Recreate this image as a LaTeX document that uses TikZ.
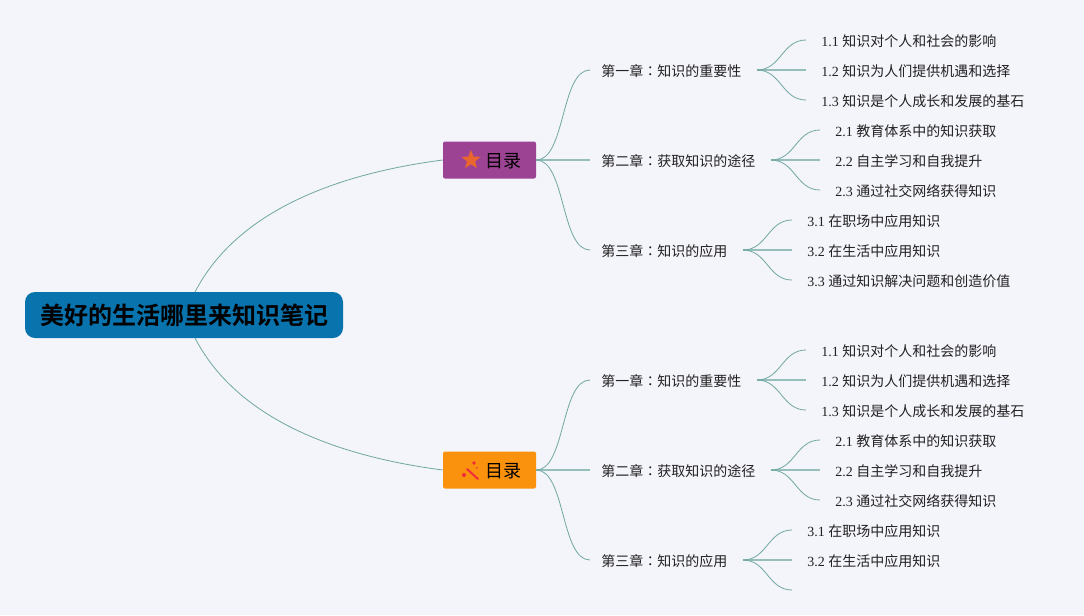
\documentclass[tikz,border=0pt]{standalone}
\usepackage{fontspec}
\setmainfont{Liberation Serif}
\newfontfamily\cjk{Noto Sans CJK SC}
\newfontfamily\cjktc{Noto Sans CJK TC}
\newfontfamily\cjkbold{Noto Sans CJK SC Bold}
\usetikzlibrary{shapes.geometric}
\definecolor{bgc}{HTML}{F4F4FB}
\definecolor{linec}{HTML}{6FA8A0}
\definecolor{rootc}{HTML}{0873AC}
\definecolor{purplec}{HTML}{9C4393}
\definecolor{orangec}{HTML}{FB920E}
\definecolor{starc}{HTML}{E9662F}
\definecolor{wandc}{HTML}{EE2C3C}
\definecolor{txt}{HTML}{222222}
\newcommand{\cln}{{\cjktc ：}}
\tikzset{
  x=0.75pt,y=-0.75pt,
  link/.style={draw=linec,line width=0.6pt},
  stem/.style={draw=linec,line width=1.2pt,opacity=.7},
  rootbox/.style={draw=none,fill=rootc,rounded corners=7.5pt,minimum width=238.5pt,minimum height=34.5pt,inner sep=0pt,text=black,font=\cjkbold\fontsize{18pt}{20pt}\selectfont},
  topicbox/.style={draw=none,rounded corners=1.5pt,minimum width=69.75pt,minimum height=27.75pt,inner sep=0pt},
  topiclabel/.style={inner sep=0pt,text=black,font=\cjk\fontsize{13.5pt}{15pt}\selectfont},
  chapnode/.style={anchor=west,inner sep=0pt,text=txt,font=\cjk\fontsize{10.5pt}{12pt}\selectfont},
  leafnode/.style={anchor=west,inner ysep=0pt,inner xsep=11.25pt,text=txt,font=\fontsize{10.5pt}{12pt}\selectfont},
}
\newcommand{\fan}[4]{% origin, a, b, c
  \draw[link] (#1) .. controls ([xshift=18pt]#1) and ([xshift=-18pt,yshift=0.75pt]#2.west) .. ([yshift=0.75pt]#2.west);
  \draw[stem] (#1) -- (#1 -| #3.west);
  \draw[link] (#1) .. controls ([xshift=18pt]#1) and ([xshift=-18pt,yshift=0.75pt]#4.west) .. ([yshift=0.75pt]#4.west);
}
\newcommand{\chapconn}[2]{%
  \draw[link] (#1.east) .. controls ([xshift=22pt]#1.east) and ([xshift=-30.25pt,yshift=0.75pt]#2.west) .. ([xshift=-8.25pt,yshift=0.75pt]#2.west);
}
\newcommand{\block}[2]{% prefix, y offset
  \node[chapnode] (#1c1) at (601,{71+#2}) {第一章\cln 知识的重要性};
  \node[chapnode] (#1c2) at (601,{161+#2}) {第二章\cln 获取知识的途径};
  \node[chapnode] (#1c3) at (601,{251+#2}) {第三章\cln 知识的应用};
  \coordinate (#1o1) at (757,{70+#2});
  \coordinate (#1o2) at (771,{160+#2});
  \coordinate (#1o3) at (743,{250+#2});
  \node[leafnode] (#1a1) at (806,{41+#2}) {1.1 {\cjk 知识对个人和社会的影响}};
  \node[leafnode] (#1a2) at (806,{71+#2}) {1.2 {\cjk 知识为人们提供机遇和选择}};
  \node[leafnode] (#1a3) at (806,{101+#2}) {1.3 {\cjk 知识是个人成长和发展的基石}};
  \node[leafnode] (#1b1) at (820,{131+#2}) {2.1 {\cjk 教育体系中的知识获取}};
  \node[leafnode] (#1b2) at (820,{161+#2}) {2.2 {\cjk 自主学习和自我提升}};
  \node[leafnode] (#1b3) at (820,{191+#2}) {2.3 {\cjk 通过社交网络获得知识}};
  \node[leafnode] (#1d1) at (792,{221+#2}) {3.1 {\cjk 在职场中应用知识}};
  \node[leafnode] (#1d2) at (792,{251+#2}) {3.2 {\cjk 在生活中应用知识}};
  \fan{#1o1}{#1a1}{#1a2}{#1a3}
  \fan{#1o2}{#1b1}{#1b2}{#1b3}
  \chapconn{#1box}{#1c1}
  \draw[stem] (#1box.east) -- ([xshift=-8.25pt,yshift=0.75pt]#1c2.west);
  \chapconn{#1box}{#1c3}
}
\begin{document}
\begin{tikzpicture}
\useasboundingbox (0,0) rectangle (1084,615);
\fill[bgc] (0,0) rectangle (1084,615);
\coordinate (rtop) at (195,292);
\coordinate (rbot) at (195,338);
\node[topicbox,fill=purplec] (sbox) at (489.5,160) {};
\node[topicbox,fill=orangec] (tbox) at (489.5,470) {};
\draw[link] (rtop) .. controls (240,205) and (350,172) .. (sbox.west);
\draw[link] (rbot) .. controls (240,425) and (350,458) .. (tbox.west);
\node[rootbox] (root) at (184,315) {美好的生活哪里来知识笔记};
\node[topiclabel] (slabel) at (503.5,161) {目录};
\node[topiclabel] (tlabel) at (503.5,471) {目录};
\node[star,star points=5,star point ratio=2.3,fill=starc,inner sep=0pt,minimum size=15pt,draw=none] (sicon) at (471,160) {};
\draw[wandc,line width=1.5pt,line cap=round] (467,469) -- (478,479);
\fill[wandc] (474,463) circle (1.8) (464,475) circle (2) (477,468) circle (0.8);
\block{s}{0}
\block{t}{310}
% third chapter of each block
\node[leafnode] (sd3) at (792,281) {3.3 {\cjk 通过知识解决问题和创造价值}};
\fan{so3}{sd1}{sd2}{sd3}
\coordinate (td3) at (792,590);
\draw[link] (to3) .. controls ([xshift=18pt]to3) and ([xshift=-18pt]td3) .. (td3);
\draw[stem] (to3) -- (to3 -| td2.west);
\draw[link] (to3) .. controls ([xshift=18pt]to3) and ([xshift=-18pt,yshift=0.75pt]td1.west) .. ([yshift=0.75pt]td1.west);
\end{tikzpicture}
\end{document}
